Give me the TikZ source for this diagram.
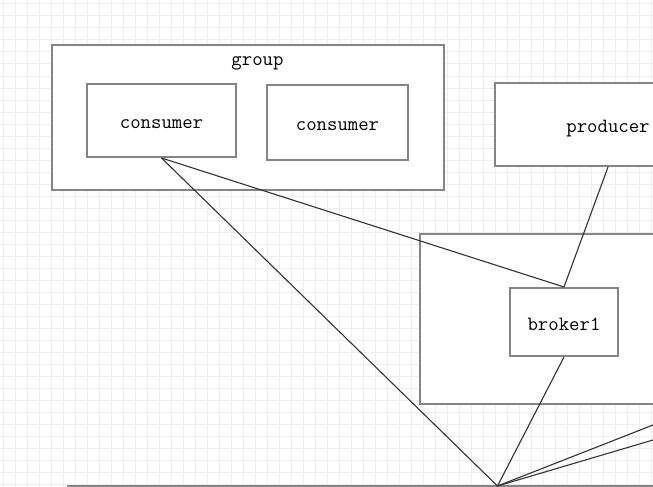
\documentclass[tikz,border=0pt]{standalone}
\usepackage{fontspec}
\definecolor{gridc}{HTML}{EEEEEE}
\definecolor{boxc}{HTML}{858585}
\definecolor{linec}{HTML}{333333}
\newcommand{\lowtxt}[1]{\raisebox{-6pt}{#1}}
\tikzset{
  txt/.style={font=\ttfamily\fontsize{20.2}{23}\selectfont, text height=0.61em, text depth=0.2em},
  box/.style={txt, draw=boxc, line width=2pt, fill=white, rectangle, inner sep=0pt},
  conn/.style={draw=linec, line width=1.1pt},
  lbl/.style={txt, inner sep=0pt}
}
\begin{document}
\begin{tikzpicture}[x=1pt,y=-1pt]
\useasboundingbox (0,0) rectangle (653,487);
\clip (0,0) rectangle (653,487);
\fill[white] (0,0) rectangle (653,487);
% grid
\foreach \i in {0,...,55} {
  \draw[gridc, line width=1pt] ({3+12*\i},0) -- ({3+12*\i},487);
}
\foreach \j in {0,...,41} {
  \draw[gridc, line width=1pt] (0,{4+12*\j}) -- (653,{4+12*\j});
}
% group
\node[box, minimum width=392pt, minimum height=145pt] (group) at (248,117.5) {};
\node[lbl] (grouplbl) at (257.5,57.5) {\lowtxt{group}};
\node[box, minimum width=149pt, minimum height=73pt] (c1) at (161.5,120.5) {\lowtxt{consumer}};
\node[box, minimum width=141pt, minimum height=75pt] (c2) at (337.5,122.5) {\lowtxt{consumer}};
% producer
\node[box, minimum width=226pt, minimum height=83pt] (prod) at (608,124.5) {\lowtxt{producer}};
% broker area
\node[box, minimum width=300pt, minimum height=170pt] (area) at (570,319) {};
\node[box, minimum width=108pt, minimum height=68pt] (b1) at (564,322) {\lowtxt{broker1}};
% bottom line
\coordinate (base) at (497.5,486);
\coordinate (baseL) at (67,486);
\coordinate (baseR) at (660,486);
\draw[boxc, line width=2pt] (baseL) -- (baseR);
\coordinate (r1) at (653,425);
\coordinate (r2) at (653,440);
% connectors
\draw[conn] (c1.south) -- (b1.north);
\draw[conn] (c1.south) -- (base);
\draw[conn] (prod.south) -- (b1.north);
\draw[conn] (b1.south) -- (base);
\draw[conn] (base) -- (r1);
\draw[conn] (base) -- (r2);
\end{tikzpicture}
\end{document}
